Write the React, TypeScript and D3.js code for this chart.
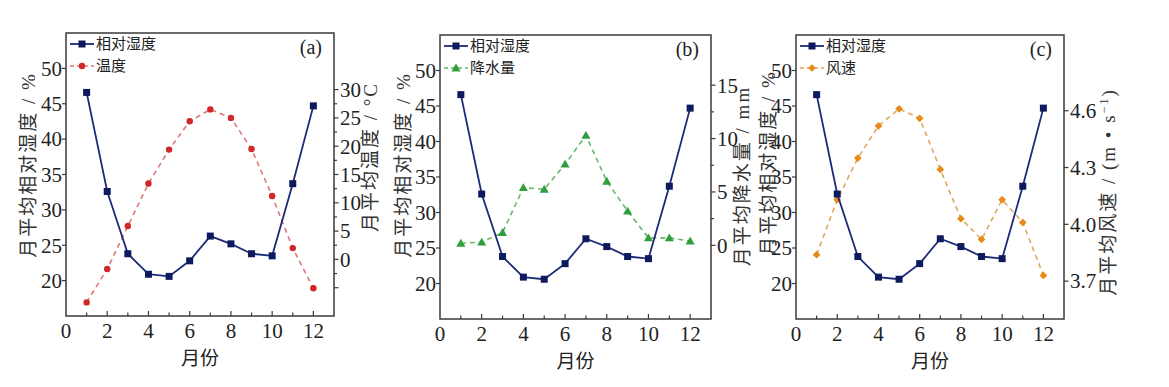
import React from "react";
import * as d3 from "d3";

const months = [1, 2, 3, 4, 5, 6, 7, 8, 9, 10, 11, 12];
const humidity = [46.6, 32.6, 23.8, 20.9, 20.6, 22.8, 26.3, 25.2, 23.8, 23.5, 33.7, 44.7];
const temperature = [-7.6, -1.7, 5.9, 13.4, 19.4, 24.4, 26.5, 25.0, 19.5, 11.2, 2.0, -5.1];
const precipitation = [0.2, 0.3, 1.2, 5.4, 5.25, 7.6, 10.3, 6.0, 3.2, 0.7, 0.7, 0.4];
const windSpeed = [3.84, 4.13, 4.35, 4.52, 4.61, 4.56, 4.29, 4.03, 3.92, 4.13, 4.01, 3.73];

const xTickLabels = [0, 2, 4, 6, 8, 10, 12];
const leftTicks = [20, 25, 30, 35, 40, 45, 50];
const tempTicks = [-5, 0, 5, 10, 15, 20, 25, 30];
const tempMinor = [-2.5, 2.5, 7.5, 12.5, 17.5, 22.5, 27.5];
const precipTicks = [0, 5, 10, 15];
const precipMinor = [2.5, 7.5, 12.5];
const windTicks = [3.7, 4.0, 4.3, 4.6];

const humidityName = "相对湿度";
const leftTitle = "月平均相对湿度 / %";

const FONT = "'Liberation Serif', 'Noto Sans CJK SC', serif";
const NAVY = "#1c2a78";
const NAVY_M = "#0e1a5e";
const FRAME = "#3a3a3a";

type Panel = {
  tag: string;
  x0: number; x1: number; y0: number; y1: number;
  name: string;
  values: number[];
  rDomain: [number, number];
  rTicks: number[];
  rMinor: number[];
  rLabel: (v: number) => string;
  rTitle: React.ReactNode;
  rTitleX: number; rTitleY: number;
  lTitleX: number; lTitleY: number;
  color: string; lineColor: string;
  marker: "circle" | "triangle" | "diamond";
};

const panels: Panel[] = [
  {
    tag: "(a)", x0: 66, x1: 334, y0: 33, y1: 316,
    name: "温度", values: temperature, rDomain: [-10, 40], rTicks: tempTicks, rMinor: tempMinor,
    rLabel: (v) => (v < 0 ? "" : String(v)),
    rTitle: "月平均温度 / °C", rTitleX: 370, rTitleY: 157, lTitleX: 28, lTitleY: 165,
    color: "#d02828", lineColor: "#e07878", marker: "circle",
  },
  {
    tag: "(b)", x0: 440, x1: 711, y0: 35, y1: 319,
    name: "降水量", values: precipitation, rDomain: [-6.9, 19.7], rTicks: precipTicks, rMinor: precipMinor,
    rLabel: (v) => String(v),
    rTitle: "月平均降水量 / mm", rTitleX: 742, rTitleY: 176, lTitleX: 403, lTitleY: 165,
    color: "#2e9e3e", lineColor: "#66b866", marker: "triangle",
  },
  {
    tag: "(c)", x0: 796, x1: 1064, y0: 35, y1: 319,
    name: "风速", values: windSpeed, rDomain: [3.5, 5.0], rTicks: windTicks, rMinor: [],
    rLabel: (v) => d3.format(".1f")(v),
    rTitle: (<>月平均风速 / (m • s<tspan baselineShift="super" fontSize="12">−1</tspan>)</>),
    rTitleX: 1108, rTitleY: 192, lTitleX: 768, lTitleY: 163,
    color: "#e8891a", lineColor: "#e0a860", marker: "diamond",
  },
];

function Marker({ kind, x, y, fill }: { kind: string; x: number; y: number; fill: string }) {
  if (kind === "square") return <rect x={x - 3.5} y={y - 3.5} width={7} height={7} fill={fill} />;
  if (kind === "circle") return <circle cx={x} cy={y} r={3.2} fill={fill} />;
  if (kind === "triangle") {
    const p = d3.symbol().type(d3.symbolTriangle).size(36)();
    return <path d={p || ""} transform={`translate(${x},${y + 0.8})`} fill={fill} />;
  }
  const p = d3.symbol().type(d3.symbolSquare).size(30)();
  return <path d={p || ""} transform={`translate(${x},${y}) rotate(45)`} fill={fill} />;
}

function PanelView({ p }: { p: Panel }) {
  const x = d3.scaleLinear().domain([0, 13]).range([p.x0, p.x1]);
  const yl = d3.scaleLinear().domain([15, 55]).range([p.y1, p.y0]);
  const yr = d3.scaleLinear().domain(p.rDomain).range([p.y1, p.y0]);
  const hLine = d3.line<number>().x((_, i) => x(months[i])).y((d) => yl(d));
  const rLine = d3.line<number>().x((_, i) => x(months[i])).y((d) => yr(d));
  const xMinor = d3.range(1, 13);
  const legX0 = p.x0 + 4;
  const legX1 = p.x0 + 28;
  const legY1 = p.y0 + 11;
  const legY2 = p.y0 + 33;
  return (
    <g fontFamily={FONT}>
      <path d={rLine(p.values) || ""} fill="none" stroke={p.lineColor} strokeWidth={1.6} strokeDasharray="5,4" />
      {p.values.map((v, i) => (
        <Marker key={"r" + i} kind={p.marker} x={x(months[i])} y={yr(v)} fill={p.color} />
      ))}
      <path d={hLine(humidity) || ""} fill="none" stroke={NAVY} strokeWidth={1.8} />
      {humidity.map((v, i) => (
        <Marker key={"h" + i} kind="square" x={x(months[i])} y={yl(v)} fill={NAVY_M} />
      ))}
      <rect x={p.x0} y={p.y0} width={p.x1 - p.x0} height={p.y1 - p.y0} fill="none" stroke={FRAME} strokeWidth={1.5} />
      {xMinor.map((m) => (
        <line key={"xt" + m} x1={x(m)} x2={x(m)} y1={p.y1} y2={p.y1 - (m % 2 === 0 ? 5 : 3.5)} stroke={FRAME} strokeWidth={1.2} />
      ))}
      {xTickLabels.map((t) => (
        <text key={"xl" + t} x={x(t)} y={p.y1 + 22} textAnchor="middle" fontSize={21} fill="#222">{t}</text>
      ))}
      <text x={(p.x0 + p.x1) / 2} y={p.y1 + 49} textAnchor="middle" fontSize={19} fill="#222" fontFamily="'Noto Sans CJK SC', sans-serif">月份</text>
      {leftTicks.map((t) => (
        <g key={"lt" + t}>
          <line x1={p.x0} x2={p.x0 - 4} y1={yl(t)} y2={yl(t)} stroke={FRAME} strokeWidth={1.2} />
          <text x={p.x0 - 4} y={yl(t)} dy="0.35em" textAnchor="end" fontSize={21} fill="#222">{t}</text>
        </g>
      ))}
      <text transform={`translate(${p.lTitleX},${p.lTitleY}) rotate(-90)`} textAnchor="middle" dy="0.35em" fontSize={19} letterSpacing={2} fill="#333">{leftTitle}</text>
      {p.rTicks.map((t) => (
        <g key={"rt" + t}>
          <line x1={p.x1} x2={p.x1 + 4.5} y1={yr(t)} y2={yr(t)} stroke={FRAME} strokeWidth={1.2} />
          <text x={p.x1 + 6} y={yr(t)} dy="0.35em" textAnchor="start" fontSize={21} fill="#222">{p.rLabel(t)}</text>
        </g>
      ))}
      {p.rMinor.map((t) => (
        <line key={"rm" + t} x1={p.x1} x2={p.x1 + 3} y1={yr(t)} y2={yr(t)} stroke={FRAME} strokeWidth={1.2} />
      ))}
      <text transform={`translate(${p.rTitleX},${p.rTitleY}) rotate(-90)`} textAnchor="middle" dy="0.35em" fontSize={19} letterSpacing={2} fill="#333">{p.rTitle}</text>
      <text x={p.x1 - 12} y={p.y0 + 21} textAnchor="end" fontSize={20} fill="#222">{p.tag}</text>
      <line x1={legX0} x2={legX1} y1={legY1} y2={legY1} stroke={NAVY} strokeWidth={1.8} />
      <Marker kind="square" x={(legX0 + legX1) / 2} y={legY1} fill={NAVY_M} />
      <text x={legX1 + 2} y={legY1} dy="0.36em" fontSize={15} fill="#222" fontFamily="'Noto Sans CJK SC', sans-serif">{humidityName}</text>
      <line x1={legX0} x2={legX1} y1={legY2} y2={legY2} stroke={p.lineColor} strokeWidth={1.6} strokeDasharray="4,3" />
      <Marker kind={p.marker} x={(legX0 + legX1) / 2} y={legY2} fill={p.color} />
      <text x={legX1 + 2} y={legY2} dy="0.36em" fontSize={15} fill="#222" fontFamily="'Noto Sans CJK SC', sans-serif">{p.name}</text>
    </g>
  );
}

export default function App() {
  return (
    <svg width={1169} height={387} style={{ position: "absolute", left: 0, top: 0, background: "#fff" }}>
      <rect width={1169} height={387} fill="#fff" />
      {panels.map((p) => (
        <PanelView key={p.tag} p={p} />
      ))}
    </svg>
  );
}
